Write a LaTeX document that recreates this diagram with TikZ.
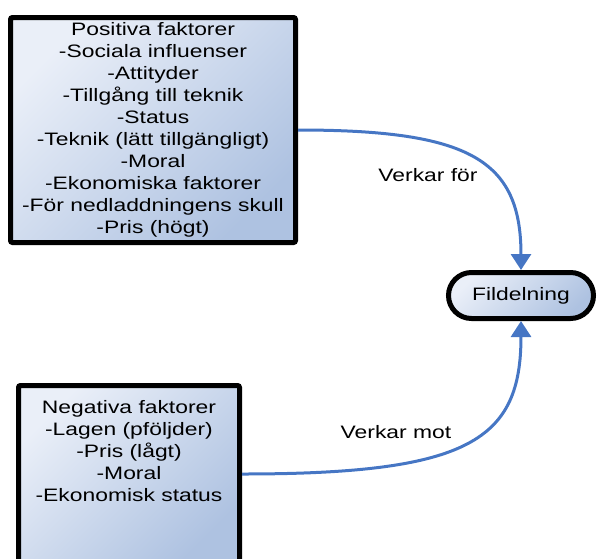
\documentclass[tikz,border=0pt]{standalone}
\usepackage{fontspec}
\setmainfont[FakeStretch=1.27]{Liberation Sans}
\usepackage{tikz}
\usetikzlibrary{arrows.meta,positioning}
\definecolor{boxlight}{RGB}{234,239,248}
\definecolor{boxdark}{RGB}{174,194,225}
\definecolor{linkblue}{RGB}{70,118,196}
\tikzset{
	every node/.style={font=\fontsize{18}{22}\selectfont, align=center}
}
\tikzset{
	factor/.style={draw, line width=5pt, rounded corners=2pt, inner sep=0pt,
		top color=boxlight, bottom color=boxdark, shading angle=45}
}
\tikzset{
	link/.style={draw=linkblue, line width=3pt,
		-{Triangle[width=20pt,length=16pt]}}
}

\begin{document}
\begin{tikzpicture}[x=1pt,y=-1pt]
	\useasboundingbox (0,0) rectangle (597,558);
	\node (pos) [factor, minimum width=285pt, minimum height=225pt]
		at (153,130) {Positiva faktorer\\-Sociala influenser\\-Attityder\\
		-Tillgång till teknik\\-Status\\-Teknik (lätt tillgängligt)\\-Moral\\
		-Ekonomiska faktorer\\-För nedladdningens skull\\-Pris (högt)};
	\node (neg) [factor, minimum width=221pt, minimum height=177pt]
		at (129,474) {};
	\node (negtext) [inner sep=0pt, below=17pt of neg.north]
		{Negativa faktorer\\-Lagen (pföljder)\\-Pris (lågt)\\-Moral\\
		-Ekonomisk status};
	\node (fil) [factor, minimum width=145pt, minimum height=46pt,
		rounded corners=23pt] at (521,295.5) {Fildelning};
	\node (for) at (428,175) {Verkar för};
	\node (mot) at (396,432) {Verkar mot};

	\draw[link] (pos.east) .. controls (470,130) and (521,160) .. (fil.north);
	\draw[link] (neg.east) .. controls (470,474) and (521,440) .. (fil.south);
\end{tikzpicture}
\end{document}
